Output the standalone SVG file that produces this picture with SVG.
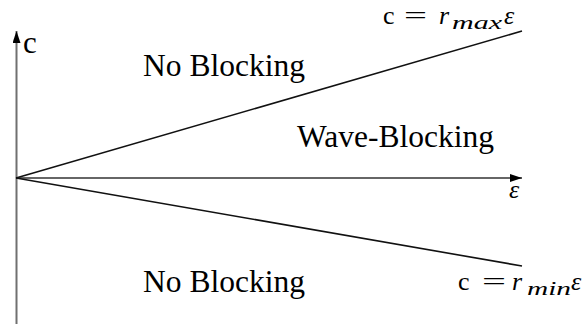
<svg xmlns="http://www.w3.org/2000/svg" width="587" height="324" viewBox="0 0 587 324">
<style>
.t{font-family:"Liberation Serif","DejaVu Serif",serif;font-size:31px;fill:#000}
.m{font-family:"Liberation Serif","DejaVu Serif",serif;font-size:26px;fill:#000}
.i{font-style:italic}
.s{font-family:"Liberation Serif","DejaVu Serif",serif;font-size:19px;font-style:italic;fill:#000}
.ln{stroke:#111;stroke-width:1.6;fill:none}
</style>
<defs>
<marker id="ah" viewBox="0 0 12 8" refX="12" refY="4" markerWidth="12" markerHeight="8" markerUnits="userSpaceOnUse" orient="auto">
<path d="M0,0 L12,4 L0,8 Z" fill="#000"/>
</marker>
</defs>
<g id="connectors">
<line x1="16.5" y1="324" x2="16.5" y2="31" stroke="#707070" stroke-width="2" marker-end="url(#ah)"/>
<line x1="16" y1="178" x2="522" y2="178" stroke="#333" stroke-width="1.5" marker-end="url(#ah)"/>
<line class="ln" x1="16" y1="178" x2="522" y2="31"/>
<line class="ln" x1="16" y1="178" x2="522" y2="266"/>
</g>
<g id="axis-c"><text class="t" x="23" y="53">c</text></g>
<g id="axis-eps"><text class="m i" x="509" y="198" font-size="28">ε</text></g>
<g id="no-blocking-top"><text class="t" x="143" y="76" textLength="162" lengthAdjust="spacingAndGlyphs">No Blocking</text></g>
<g id="wave-blocking"><text class="t" x="297" y="147" textLength="197" lengthAdjust="spacingAndGlyphs">Wave-Blocking</text></g>
<g id="no-blocking-bottom"><text class="t" x="143" y="292" textLength="162" lengthAdjust="spacingAndGlyphs">No Blocking</text></g>
<g id="label-max">
<text class="m" x="383" y="24">c</text>
<text class="m" x="404" y="24" textLength="23" lengthAdjust="spacingAndGlyphs">=</text>
<text class="m i" x="439" y="24">r</text>
<text class="s" x="452" y="29" textLength="50" lengthAdjust="spacingAndGlyphs">max</text>
<text class="m i" x="504" y="24">ε</text>
</g>
<g id="label-min">
<text class="m" x="458" y="290">c</text>
<text class="m" x="482" y="290" textLength="24" lengthAdjust="spacingAndGlyphs">=</text>
<text class="m i" x="512" y="290">r</text>
<text class="s" x="527" y="295" textLength="44" lengthAdjust="spacingAndGlyphs">min</text>
<text class="m i" x="571" y="290">ε</text>
</g>
</svg>
